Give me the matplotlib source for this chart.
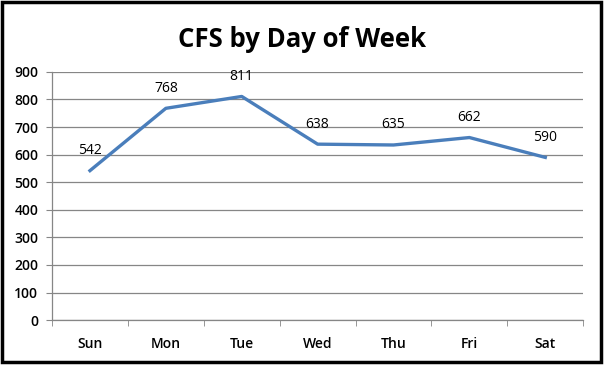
import matplotlib
matplotlib.use('Agg')
import matplotlib.pyplot as plt
from matplotlib.patches import Rectangle
import numpy as np

days = ["Sun", "Mon", "Tue", "Wed", "Thu", "Fri", "Sat"]
cfs = [542, 768, 811, 638, 635, 662, 590]
yticks = [0, 100, 200, 300, 400, 500, 600, 700, 800, 900]

plt.rcParams['font.family'] = ['Open Sans', 'DejaVu Sans']

fig = plt.figure(figsize=(6.05, 3.65), dpi=100)
ax = fig.add_axes([0.086, 0.123, 0.878, 0.680])

x = np.arange(len(days))
ax.plot(x, cfs, color="#4A7EBB", linewidth=2.4, solid_joinstyle="round")
for xi, v in zip(x, cfs):
    ax.annotate(str(v), (xi, v), xytext=(0, 9), textcoords="offset points",
                ha="center", va="bottom", fontsize=10)

ax.set_xlim(-0.5, len(days) - 0.5)
ax.set_ylim(0, 900)
ax.set_yticks(yticks)
ax.set_yticklabels([str(t) for t in yticks], fontsize=10, fontweight=600)
ax.set_xticks(x)
ax.set_xticklabels(days, fontsize=10, fontweight=600)
ax.set_xticks(np.arange(-0.5, len(days)), minor=True)
ax.tick_params(axis="x", which="major", length=0, pad=12)
ax.tick_params(axis="x", which="minor", length=4, color="#868686", direction="out")
ax.tick_params(axis="y", length=4, color="#868686", pad=6)
ax.grid(axis="y", color="#868686", linewidth=0.9)
ax.set_axisbelow(True)
for s in ["top", "right"]:
    ax.spines[s].set_visible(False)
for s in ["left", "bottom"]:
    ax.spines[s].set_color("#868686")
    ax.spines[s].set_linewidth(0.9)

fig.text(0.5, 0.893, "CFS by Day of Week", ha="center", va="center",
         fontsize=18.5, fontweight="bold")
fig.patches.append(Rectangle((0.004, 0.007), 0.99, 0.987, transform=fig.transFigure,
                             fill=False, edgecolor="black", linewidth=2.5))

fig.savefig("out.png", dpi=100)
